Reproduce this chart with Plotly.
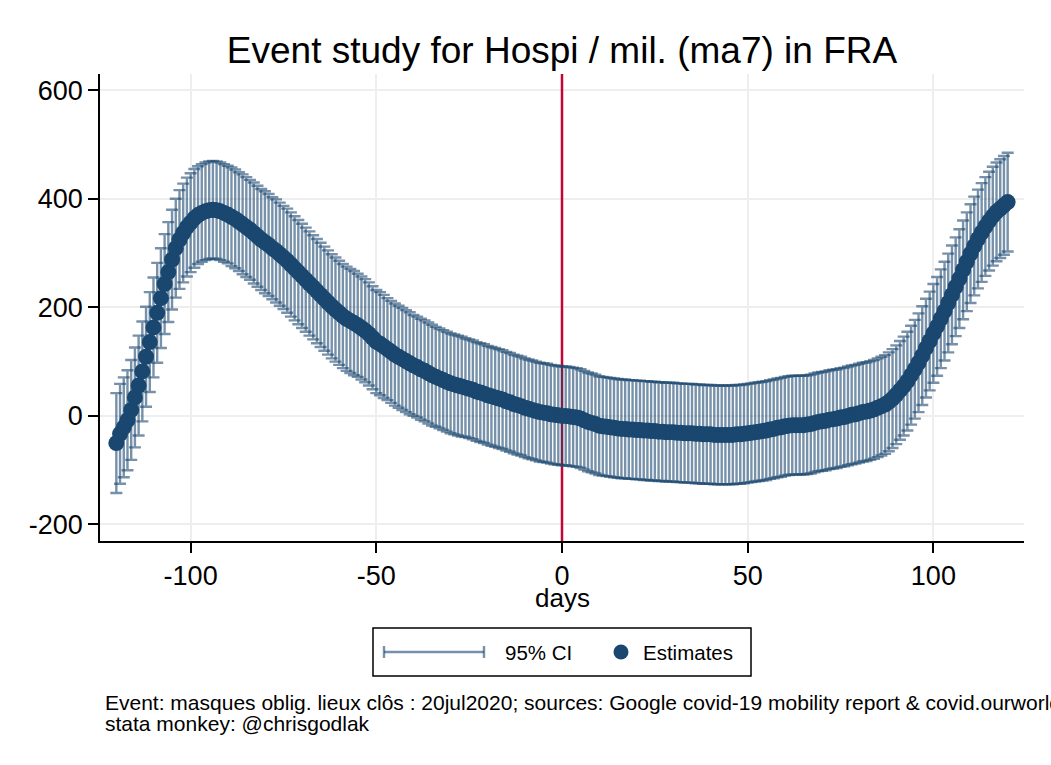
import plotly.graph_objects as go

estimates = [
    -50, -33, -21, -8, 11, 34, 56, 82, 109, 136,
    163, 190, 217, 243, 265, 288, 309, 325, 337, 348,
    356, 364, 370, 374, 377, 379, 380, 379, 377, 374,
    371, 367, 363, 358, 353, 348, 343, 337, 331, 325,
    320, 315, 309, 304, 298, 292, 286, 279, 272, 265,
    258, 251, 244, 237, 230, 223, 216, 209, 202, 196,
    190, 184, 179, 175, 171, 167, 162, 157, 151, 144,
    137, 133, 128, 123, 118, 113, 109, 105, 101, 97,
    93, 90, 86, 83, 79, 75, 72, 69, 66, 63,
    60, 58, 56, 54, 52, 50, 48, 45, 43, 41,
    38, 36, 34, 32, 30, 27, 25, 22, 20, 18,
    15, 13, 11, 9, 7, 6, 5, 3, 2, 1,
    0,
    0, -1, -2, -3, -5, -8, -11, -13, -15, -18,
    -19, -20, -21, -22, -23, -24, -24, -25, -25, -26,
    -26, -27, -27, -28, -28, -29, -29, -30, -30, -30,
    -31, -31, -32, -32, -32, -33, -33, -34, -34, -34,
    -35, -35, -35, -35, -35, -35, -34, -34, -33, -32,
    -31, -30, -29, -28, -27, -25, -24, -22, -21, -19,
    -18, -17, -17, -17, -17, -16, -15, -13, -11, -10,
    -9, -7, -6, -5, -3, -2, 0, 2, 3, 5,
    7, 8, 10, 12, 15, 18, 21, 26, 32, 39,
    47, 55, 64, 75, 86, 98, 111, 125, 138, 152,
    165, 179, 193, 208, 223, 238, 253, 269, 284, 299,
    313, 326, 338, 349, 359, 368, 376, 382, 388, 394,
]
ci_half_width = [
    92, 92, 92, 92, 92, 92, 92, 92, 92, 92,
    92, 92, 92, 92, 92, 92, 91, 91, 91, 91,
    91, 91, 90, 90, 90, 90, 90, 90, 90, 90,
    90, 91, 91, 91, 92, 92, 92, 93, 93, 93,
    94, 94, 94, 95, 95, 95, 96, 96, 96, 96,
    96, 96, 96, 96, 96, 96, 96, 96, 96, 96,
    96, 96, 96, 96, 96, 95, 95, 95, 95, 95,
    95, 95, 95, 94, 94, 94, 94, 94, 94, 94,
    93, 93, 93, 93, 93, 93, 92, 92, 92, 92,
    92, 92, 92, 92, 91, 91, 91, 91, 91, 91,
    91, 91, 91, 91, 91, 91, 91, 91, 91, 91,
    91, 91, 91, 91, 91, 91, 91, 91, 91, 91,
    91,
    91, 91, 91, 91, 91, 91, 91, 91, 91, 91,
    91, 91, 91, 91, 91, 91, 91, 91, 91, 91,
    91, 91, 91, 91, 91, 91, 91, 91, 91, 91,
    91, 91, 91, 91, 91, 91, 91, 91, 91, 91,
    91, 91, 91, 91, 91, 91, 91, 91, 91, 91,
    91, 91, 91, 91, 91, 91, 91, 91, 91, 91,
    91, 91, 91, 91, 91, 91, 91, 91, 91, 91,
    91, 91, 91, 91, 91, 91, 91, 91, 91, 91,
    91, 91, 91, 91, 91, 91, 91, 91, 91, 91,
    91, 91, 91, 91, 91, 91, 91, 91, 91, 91,
    91, 91, 91, 91, 91, 91, 91, 91, 91, 91,
    91, 91, 91, 91, 91, 91, 91, 91, 91, 91,
]
days = list(range(-120, -120 + len(estimates)))
event_day = [0, 0]
event_span = [-230.5, 630]
x_ticks = [-100, -50, 0, 50, 100]
y_ticks = [-200, 0, 200, 400, 600]

TITLE = "Event study for Hospi / mil. (ma7) in FRA"
NOTE_1 = "Event: masques oblig. lieux clôs : 20jul2020; sources: Google covid-19 mobility report & covid.ourworldindata.org"
NOTE_2 = "stata monkey: @chrisgodlak"

NAVY = "#1a476f"
CI = "rgba(26,71,111,0.6)"
RED = "#c10534"
FONT = "Liberation Sans"
W, H = 1051, 765
L, R, T, B = 100, 1024, 74, 541


def px(x):
    return (x - L) / (R - L)


def py(y):
    return (B - y) / (B - T)


fig = go.Figure()
fig.add_trace(go.Scatter(x=event_day, y=event_span, mode="lines",
                         line=dict(color=RED, width=2.5), showlegend=False, hoverinfo="skip"))
fig.add_trace(go.Scatter(x=days, y=estimates, mode="markers", marker=dict(size=1, opacity=0),
                         name="95% CI", showlegend=False,
                         error_y=dict(type="data", array=ci_half_width, visible=True,
                                      color=CI, thickness=2.4, width=6)))
fig.add_trace(go.Scatter(x=days, y=estimates, mode="markers", name="Estimates", showlegend=False,
                         marker=dict(size=16, color=NAVY, line=dict(width=0))))

shapes = [
    dict(type="rect", xref="paper", yref="paper", x0=px(373), x1=px(751), y0=py(676), y1=py(628),
         line=dict(color="black", width=1.5), fillcolor="white"),
    dict(type="line", xref="paper", yref="paper", x0=px(384), x1=px(484), y0=py(652), y1=py(652),
         line=dict(color=CI, width=2.4)),
    dict(type="line", xref="paper", yref="paper", x0=px(384), x1=px(384), y0=py(646), y1=py(658),
         line=dict(color=CI, width=2.4)),
    dict(type="line", xref="paper", yref="paper", x0=px(484), x1=px(484), y0=py(646), y1=py(658),
         line=dict(color=CI, width=2.4)),
    dict(type="circle", xref="paper", yref="paper", x0=px(613.5), x1=px(628.5), y0=py(659.5), y1=py(644.5),
         line=dict(width=0), fillcolor=NAVY),
]


def label(text, x, y, size, anchor="left"):
    return dict(text=text, xref="paper", yref="paper", x=px(x), y=py(y), xanchor=anchor, yanchor="middle",
                showarrow=False, font=dict(family=FONT, size=size, color="black"), align="left")


annotations = [
    label("days", 562, 598, 26, "center"),
    label("95% CI", 503, 652.5, 20.5),
    label("Estimates", 641, 652.5, 20.5),
    label(NOTE_1, 103, 702, 21),
    label(NOTE_2, 103, 723, 21),
]

axis_common = dict(showgrid=True, gridcolor="#eeeeee", gridwidth=2, zeroline=False,
                   showline=True, linecolor="black", linewidth=1.5,
                   ticks="outside", ticklen=10, tickwidth=1.5, tickcolor="black",
                   tickfont=dict(family=FONT, size=27, color="black"))

fig.update_layout(
    width=W, height=H, autosize=False,
    margin=dict(l=L, r=W - R, t=T, b=H - B, autoexpand=False),
    paper_bgcolor="white", plot_bgcolor="white",
    font=dict(family=FONT, color="black"),
    title=dict(text=TITLE, x=562 / W, xanchor="center", y=1 - 50 / H, yanchor="middle",
               font=dict(family=FONT, size=37, color="black")),
    showlegend=False,
    xaxis=dict(range=[-124.4, 124.4], tickvals=x_ticks, ticktext=[str(v) for v in x_ticks], **axis_common),
    yaxis=dict(range=[-230.5, 630], tickvals=y_ticks, ticktext=[str(v) for v in y_ticks], **axis_common),
    shapes=shapes, annotations=annotations,
)

fig.write_html("out.html", config={"displayModeBar": False},
               post_script="document.body.style.margin='0';")
